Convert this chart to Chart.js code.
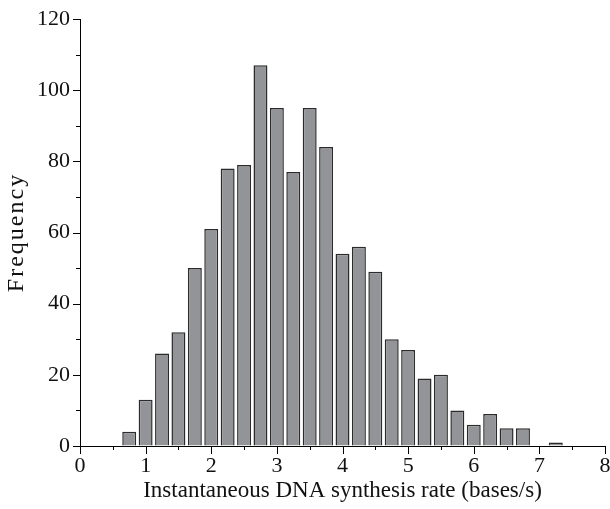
<!DOCTYPE html>
<html>
<head>
<meta charset="utf-8">
<script src="https://cdn.jsdelivr.net/npm/chart.js@4.4.0/dist/chart.umd.min.js"></script>
<style>
  html, body { margin: 0; padding: 0; background: #fff; }
  #wrap { width: 610px; height: 509px; }
</style>
</head>
<body>
<div id="wrap"><canvas id="hist"></canvas></div>
<script>
// histogram bins (centre of each 0.25 bin) and counts
const binCenters = [0.75, 1.0, 1.25, 1.5, 1.75, 2.0, 2.25, 2.5, 2.75, 3.0, 3.25, 3.5, 3.75,
  4.0, 4.25, 4.5, 4.75, 5.0, 5.25, 5.5, 5.75, 6.0, 6.25, 6.5, 6.75, 7.25];
const frequencies = [4, 13, 26, 32, 50, 61, 78, 79, 107, 95, 77, 95, 84,
  54, 56, 49, 30, 27, 19, 20, 10, 6, 9, 5, 5, 1];
const xTicks = [0, 1, 2, 3, 4, 5, 6, 7, 8];
const yTicks = [0, 20, 40, 60, 80, 100, 120];
const xMinor = [0.5, 1.5, 2.5, 3.5, 4.5, 5.5, 6.5, 7.5];
const yMinor = [10, 30, 50, 70, 90, 110];

const serif = "'Liberation Serif', 'DejaVu Serif', serif";

// outward tick marks (major + minor), placed through the scales
const tickMarks = {
  id: 'tickMarks',
  afterDraw(chart) {
    const { ctx, scales: { x, y } } = chart;
    ctx.save();
    ctx.strokeStyle = '#000';
    ctx.lineWidth = 1;
    ctx.beginPath();
    const xt = (v, len) => {
      const px = Math.round(x.getPixelForValue(v)) + 0.5;
      ctx.moveTo(px, y.bottom);
      ctx.lineTo(px, y.bottom + len);
    };
    const yt = (v, len) => {
      const py = Math.round(y.getPixelForValue(v)) + 0.5;
      ctx.moveTo(x.left, py);
      ctx.lineTo(x.left - len, py);
    };
    xTicks.forEach(v => xt(v, 8));
    xMinor.forEach(v => xt(v, 4));
    yTicks.forEach(v => yt(v, 7));
    yMinor.forEach(v => yt(v, 4));
    ctx.stroke();
    ctx.restore();
  }
};

new Chart(document.getElementById('hist'), {
  type: 'bar',
  data: {
    datasets: [{
      data: binCenters.map((c, i) => ({ x: c, y: frequencies[i] })),
      backgroundColor: '#939498',
      borderColor: '#2b2b2b',
      borderWidth: 1.5,
      barPercentage: 0.85,
      categoryPercentage: 1.0
    }]
  },
  options: {
    responsive: true,
    maintainAspectRatio: false,
    animation: false,
    layout: { padding: { top: 19, right: 5, left: 0, bottom: 0 } },
    plugins: { legend: { display: false }, tooltip: { enabled: false } },
    scales: {
      x: {
        type: 'linear',
        min: 0,
        max: 8,
        offset: false,
        afterBuildTicks: s => { s.ticks = xTicks.map(v => ({ value: v })); },
        afterFit: s => {
          s.height = 63;
          s.paddingLeft = 0;
          s.paddingRight = 0;
        },
        ticks: { color: '#111', font: { family: serif, size: 22 }, padding: 7, maxRotation: 0 },
        grid: { drawOnChartArea: false, drawTicks: false },
        border: { color: '#000', width: 1 },
        title: {
          display: true,
          text: 'Instantaneous DNA synthesis rate (bases/s)',
          color: '#111',
          font: { family: serif, size: 23 },
          padding: { top: 0, bottom: 4 }
        }
      },
      y: {
        min: 0,
        max: 120,
        afterBuildTicks: s => { s.ticks = yTicks.map(v => ({ value: v })); },
        afterFit: s => {
          s.width = 80;
          s.paddingTop = 0;
          s.paddingBottom = 0;
          if (!s._spaced) {
            // the reference's y title is set wider than the font
            const draw = s.drawTitle.bind(s);
            s.drawTitle = function () {
              this.ctx.save();
              this.ctx.letterSpacing = '2px';
              draw();
              this.ctx.restore();
            };
            s._spaced = true;
          }
        },
        ticks: { color: '#111', font: { family: serif, size: 22 }, padding: 10 },
        grid: { drawOnChartArea: false, drawTicks: false },
        border: { color: '#000', width: 1 },
        title: {
          display: true,
          text: 'Frequency',
          color: '#111',
          font: { family: serif, size: 24 },
          padding: { top: 2, bottom: 2 }
        }
      }
    }
  },
  plugins: [tickMarks]
});
</script>
</body>
</html>
